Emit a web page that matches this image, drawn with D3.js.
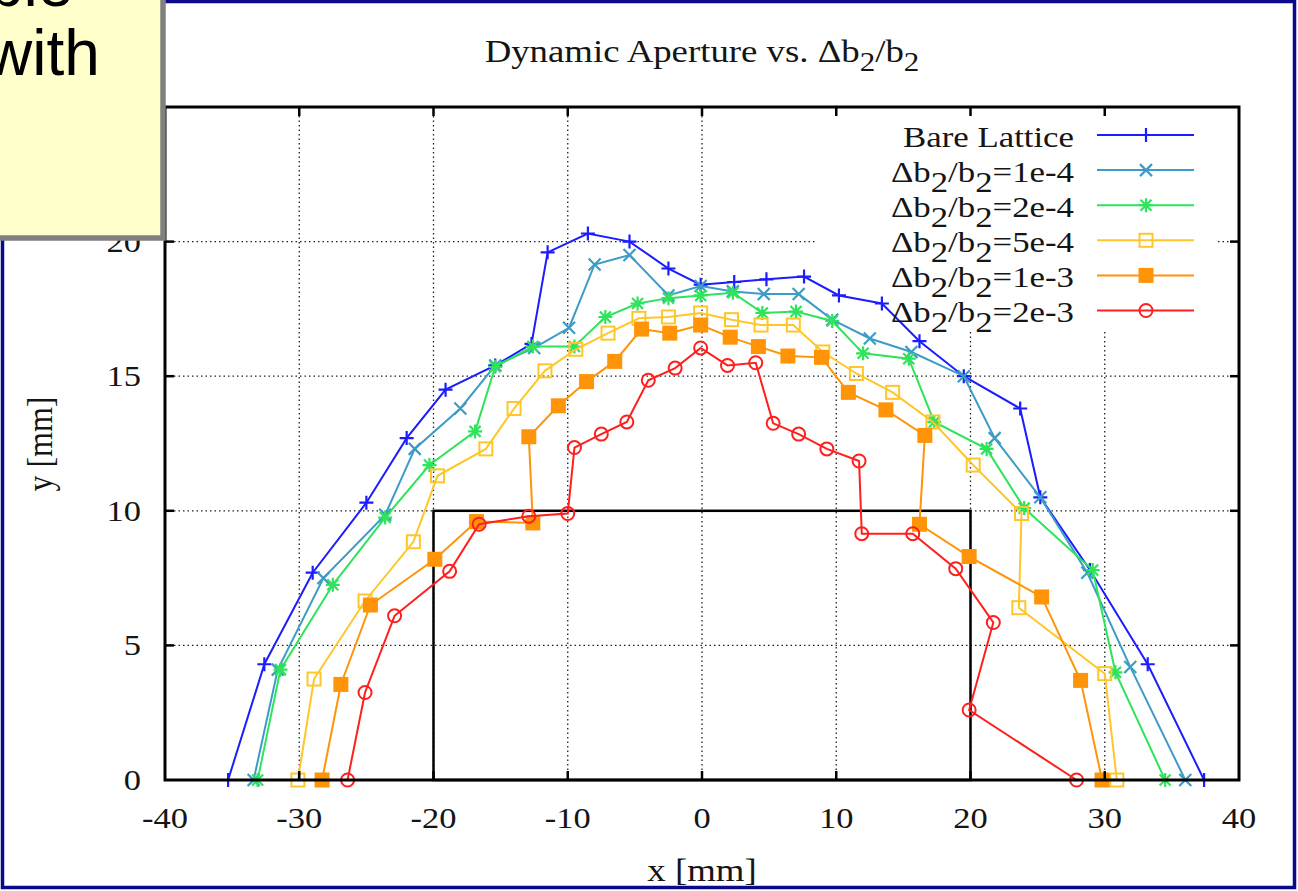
<!DOCTYPE html>
<html>
<head>
<meta charset="utf-8">
<script src="https://cdn.jsdelivr.net/npm/d3@7"></script>
<style>
    body { margin: 0; background: #fff; }
    svg { display: block; }
    text { font-family: "Liberation Serif", "Times New Roman", serif; fill: #151515; }
</style>
</head>
<body>
<svg id="chart" width="1298" height="891"></svg>
<script>
// values (mm)
const seriesNames = ["Bare Lattice", "Δb2/b2=1e-4", "Δb2/b2=2e-4", "Δb2/b2=5e-4", "Δb2/b2=1e-3", "Δb2/b2=2e-3"];
const seriesColors = ["#1c1cff", "#3c9cc6", "#2fe35c", "#ffc62a", "#ff9408", "#ff1f1f"];
const seriesMarks = ["plus", "cross", "star", "square", "filled", "circle"];

const bareX = [-35.3, -32.6, -29.0, -25.0, -22.0, -19.1, -15.4, -12.7, -11.5, -8.5, -5.4, -2.5, -0.1, 2.4, 4.8, 7.6, 10.2, 13.4, 16.2, 19.5, 23.7, 25.2, 28.9, 33.2, 37.4];
const bareY = [0, 4.3, 7.7, 10.3, 12.7, 14.5, 15.4, 16.2, 19.6, 20.3, 20.0, 19.0, 18.4, 18.5, 18.6, 18.7, 18.0, 17.7, 16.3, 15.0, 13.8, 10.5, 7.8, 4.3, 0];

const e14X = [-33.4, -31.6, -28.2, -23.6, -21.4, -18.0, -15.4, -12.5, -9.9, -8.0, -5.4, -2.5, -0.1, 2.3, 4.6, 7.2, 9.7, 12.5, 15.6, 19.5, 21.8, 25.2, 28.7, 31.9, 36.0];
const e14Y = [0, 4.1, 7.5, 9.85, 12.3, 13.8, 15.4, 16.05, 16.8, 19.15, 19.5, 18.0, 18.35, 18.15, 18.05, 18.05, 17.1, 16.4, 15.9, 15.0, 12.7, 10.5, 7.7, 4.2, 0];

const e24X = [-33.1, -31.4, -27.5, -23.6, -20.3, -16.9, -15.4, -12.6, -9.5, -7.2, -4.8, -2.5, -0.1, 2.3, 4.5, 7.0, 9.7, 12.0, 15.4, 17.3, 21.2, 24.0, 29.1, 30.8, 34.5];
const e24Y = [0, 4.1, 7.25, 9.75, 11.7, 12.95, 15.35, 16.1, 16.1, 17.2, 17.7, 17.9, 18.0, 18.1, 17.35, 17.4, 17.05, 15.85, 15.65, 13.3, 12.3, 10.1, 7.8, 4.0, 0];

const e54X = [-30.1, -28.9, -25.1, -21.5, -19.7, -16.1, -14.0, -11.7, -9.4, -7.0, -4.7, -2.5, -0.1, 2.2, 4.4, 6.8, 9.0, 11.5, 14.2, 17.2, 20.2, 23.8, 23.6, 30.0, 30.9];
const e54Y = [0, 3.75, 6.65, 8.85, 11.3, 12.3, 13.8, 15.2, 16.0, 16.6, 17.15, 17.2, 17.35, 17.1, 16.9, 16.9, 15.9, 15.1, 14.4, 13.3, 11.7, 9.9, 6.4, 3.95, 0];

const e13X = [-28.3, -26.9, -24.7, -19.9, -16.8, -12.6, -12.9, -10.7, -8.6, -6.5, -4.5, -2.4, -0.1, 2.1, 4.2, 6.4, 8.9, 10.9, 13.7, 16.6, 16.2, 19.9, 25.3, 28.2, 29.8];
const e13Y = [0, 3.55, 6.5, 8.2, 9.6, 9.55, 12.75, 13.9, 14.8, 15.55, 16.75, 16.6, 16.9, 16.45, 16.1, 15.75, 15.7, 14.4, 13.75, 12.8, 9.5, 8.3, 6.8, 3.7, 0];

const e23X = [-26.4, -25.1, -22.9, -18.8, -16.6, -12.9, -10.0, -9.5, -7.5, -5.6, -4.0, -2.0, -0.1, 1.9, 4.0, 5.3, 7.2, 9.3, 11.7, 11.9, 15.7, 18.9, 21.7, 19.9, 27.9];
const e23Y = [0, 3.25, 6.1, 7.75, 9.5, 9.8, 9.9, 12.35, 12.85, 13.3, 14.85, 15.3, 16.05, 15.4, 15.5, 13.25, 12.85, 12.3, 11.85, 9.15, 9.15, 7.85, 5.85, 2.6, 0];

const xTicks = [-40, -30, -20, -10, 0, 10, 20, 30, 40];
const yTicks = [0, 5, 10, 15, 20, 25];
const boxCorners = [[-20, 0], [20, 10]]; // the black rectangle

const seriesXs = [bareX, e14X, e24X, e54X, e13X, e23X];
const seriesYs = [bareY, e14Y, e24Y, e54Y, e13Y, e23Y];

const svg = d3.select('#chart');
const plot = { left: 165, right: 1239, top: 107, bottom: 780 };
const sx = 1.15; // the slide is a bit stretched sideways

const x = d3.scaleLinear().domain([-40, 40]).range([plot.left, plot.right]);
const y = d3.scaleLinear().domain([0, 25]).range([plot.bottom, plot.top]);

// text helper: stretched text anchored at (px,py)
function label(g, px, py, str, size, anchor, stretch) {
    return g.append('text')
        .attr('transform', `translate(${px},${py}) scale(${stretch || sx},1)`)
        .attr('font-size', size)
        .attr('text-anchor', anchor)
        .text(str);
}

// writes "b2" with the 2 as subscript
function richText(t, str, shift, subSize) {
    const parts = str.split(/(?<=b)2/);
    parts.forEach((p, i) => {
        t.append('tspan').attr('dy', i === 0 ? 0 : -shift).text(p);
        if (i < parts.length - 1) {
            t.append('tspan').attr('dy', shift).attr('font-size', subSize).text('2');
        }
    });
}

// slide frame
svg.append('rect')
    .attr('x', 2.5).attr('y', 1.5)
    .attr('width', 1292).attr('height', 886)
    .attr('fill', '#fff')
    .attr('stroke', '#0a0a8a')
    .attr('stroke-width', 3.5);

// title
const title = svg.append('text')
    .attr('transform', `translate(702,62) scale(${sx},1)`)
    .attr('font-size', 32)
    .attr('text-anchor', 'middle');
richText(title, 'Dynamic Aperture vs. Δb2/b2', 9, 27);

// grid
const grid = svg.append('g')
    .attr('stroke', '#222')
    .attr('stroke-width', 1.3)
    .attr('stroke-dasharray', '1.5,3');

grid.selectAll('.gx')
    .data(xTicks.slice(1, -1))
    .enter()
    .append('line')
    .attr('x1', d => x(d)).attr('x2', d => x(d))
    .attr('y1', plot.top).attr('y2', plot.bottom);

grid.selectAll('.gy')
    .data(yTicks.slice(1, -1))
    .enter()
    .append('line')
    .attr('x1', plot.left).attr('x2', plot.right)
    .attr('y1', d => y(d)).attr('y2', d => y(d));

// key area hides the grid
svg.append('rect')
    .attr('x', 815).attr('y', plot.top + 2)
    .attr('width', 401).attr('height', 222)
    .attr('fill', '#fff');

// black rectangle
svg.append('rect')
    .attr('x', x(boxCorners[0][0]))
    .attr('y', y(boxCorners[1][1]))
    .attr('width', x(boxCorners[1][0]) - x(boxCorners[0][0]))
    .attr('height', y(boxCorners[0][1]) - y(boxCorners[1][1]))
    .attr('fill', 'none')
    .attr('stroke', '#000')
    .attr('stroke-width', 2.5);

function drawMark(g, kind, color) {
    if (kind === 'plus') {
        g.append('path').attr('d', 'M-7,0H7M0,-7V7').attr('stroke', color).attr('stroke-width', 2.2);
    } else if (kind === 'cross') {
        g.append('path').attr('d', 'M-6,-6L6,6M-6,6L6,-6').attr('stroke', color).attr('stroke-width', 2.2);
    } else if (kind === 'star') {
        g.append('path').attr('d', 'M-7,0H7M0,-7V7M-5.5,-5.5L5.5,5.5M-5.5,5.5L5.5,-5.5').attr('stroke', color).attr('stroke-width', 2.2);
    } else if (kind === 'square') {
        g.append('rect').attr('x', -6.5).attr('y', -6.5).attr('width', 13).attr('height', 13)
            .attr('fill', 'none').attr('stroke', color).attr('stroke-width', 2);
    } else if (kind === 'filled') {
        g.append('rect').attr('x', -7.5).attr('y', -7.5).attr('width', 15).attr('height', 15)
            .attr('fill', color);
    } else {
        g.append('circle').attr('r', 6.5)
            .attr('fill', 'none').attr('stroke', color).attr('stroke-width', 2);
    }
}

const line = d3.line().x(d => x(d[0])).y(d => y(d[1]));

seriesNames.forEach((name, i) => {
    const pts = seriesXs[i].map((v, j) => [v, seriesYs[i][j]]);
    const g = svg.append('g');

    g.append('path')
        .datum(pts)
        .attr('d', line)
        .attr('fill', 'none')
        .attr('stroke', seriesColors[i])
        .attr('stroke-width', 2);

    g.selectAll('.m')
        .data(pts)
        .enter()
        .append('g')
        .attr('transform', d => `translate(${x(d[0])},${y(d[1])})`)
        .each(function() { drawMark(d3.select(this), seriesMarks[i], seriesColors[i]); });

    // key entry
    const rowY = 135 + 35.1 * i;
    const t = svg.append('text')
        .attr('transform', `translate(1074,${rowY + 11.5}) scale(1.2,1)`)
        .attr('font-size', 29)
        .attr('text-anchor', 'end');
    richText(t, name, 10, 29);

    svg.append('line')
        .attr('x1', 1097).attr('x2', 1194)
        .attr('y1', rowY).attr('y2', rowY)
        .attr('stroke', seriesColors[i])
        .attr('stroke-width', 2);
    drawMark(svg.append('g').attr('transform', `translate(1146,${rowY})`), seriesMarks[i], seriesColors[i]);
});

// border and ticks
svg.append('rect')
    .attr('x', plot.left).attr('y', plot.top)
    .attr('width', plot.right - plot.left)
    .attr('height', plot.bottom - plot.top)
    .attr('fill', 'none')
    .attr('stroke', '#000')
    .attr('stroke-width', 3);

const ticks = svg.append('g').attr('stroke', '#000').attr('stroke-width', 2.5);
xTicks.slice(1, -1).forEach(v => {
    ticks.append('line').attr('x1', x(v)).attr('x2', x(v)).attr('y1', plot.bottom).attr('y2', plot.bottom - 9);
    ticks.append('line').attr('x1', x(v)).attr('x2', x(v)).attr('y1', plot.top).attr('y2', plot.top + 9);
});
yTicks.slice(1, -1).forEach(v => {
    ticks.append('line').attr('x1', plot.left).attr('x2', plot.left + 9).attr('y1', y(v)).attr('y2', y(v));
    ticks.append('line').attr('x1', plot.right).attr('x2', plot.right - 9).attr('y1', y(v)).attr('y2', y(v));
});

// tick labels
const labels = svg.append('g');
xTicks.forEach(v => label(labels, x(v), 828, String(v), 30, 'middle'));
yTicks.forEach(v => label(labels, 141, y(v) + 10, String(v), 30, 'end'));

label(svg, 702, 881, 'x [mm]', 32, 'middle');
svg.append('text')
    .attr('transform', `translate(52,444) scale(${sx},1) rotate(-90)`)
    .attr('font-size', 32)
    .attr('text-anchor', 'middle')
    .text('y [mm]');

// sticky note from the slide, covers the corner
const note = svg.append('g');
note.append('rect')
    .attr('x', -10).attr('y', -10)
    .attr('width', 173).attr('height', 248)
    .attr('fill', '#ffffcc')
    .attr('stroke', '#808080')
    .attr('stroke-width', 5.5);
note.append('text')
    .attr('x', -12).attr('y', 6)
    .attr('font-size', 64)
    .style('font-family', '"Liberation Sans", Arial, sans-serif')
    .style('fill', '#000')
    .text('ble');
note.append('text')
    .attr('x', -14).attr('y', 75)
    .attr('font-size', 64)
    .style('font-family', '"Liberation Sans", Arial, sans-serif')
    .style('fill', '#000')
    .text('with');
</script>
</body>
</html>
